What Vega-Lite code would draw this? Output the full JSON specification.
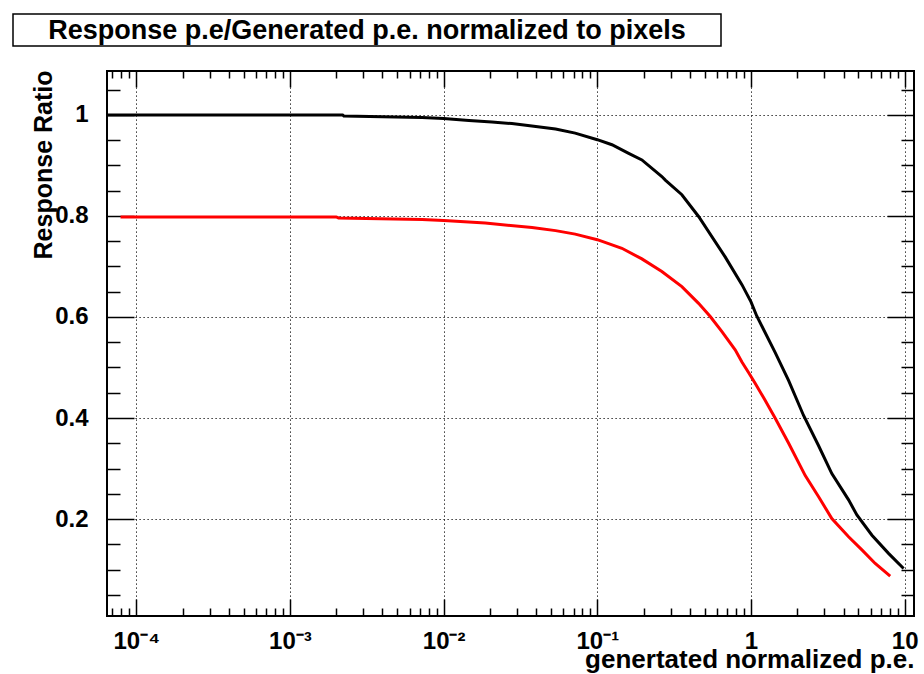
{
  "$schema": "https://vega.github.io/schema/vega-lite/v6.json",
  "background": "white",
  "padding": {"left": 12, "top": 13, "right": 0, "bottom": 0},
  "spacing": 22,
  "config": {
    "font": "Liberation Sans",
    "axis": {"labelFont": "Liberation Sans", "titleFont": "Liberation Sans", "labelColor": "black", "titleColor": "black", "tickColor": "black"}
  },
  "datasets": {
    "response": [
      {"curve": "upper", "pe": 6.5e-5, "ratio": 1.0},
      {"curve": "upper", "pe": 0.0022, "ratio": 1.0},
      {"curve": "upper", "pe": 0.00224, "ratio": 0.998},
      {"curve": "upper", "pe": 0.00723, "ratio": 0.995},
      {"curve": "upper", "pe": 0.01, "ratio": 0.993},
      {"curve": "upper", "pe": 0.0146, "ratio": 0.989},
      {"curve": "upper", "pe": 0.0206, "ratio": 0.986},
      {"curve": "upper", "pe": 0.0278, "ratio": 0.983},
      {"curve": "upper", "pe": 0.0375, "ratio": 0.978},
      {"curve": "upper", "pe": 0.0535, "ratio": 0.972},
      {"curve": "upper", "pe": 0.0718, "ratio": 0.964},
      {"curve": "upper", "pe": 0.1, "ratio": 0.951},
      {"curve": "upper", "pe": 0.1245, "ratio": 0.941},
      {"curve": "upper", "pe": 0.16, "ratio": 0.924},
      {"curve": "upper", "pe": 0.195, "ratio": 0.911},
      {"curve": "upper", "pe": 0.263, "ratio": 0.878},
      {"curve": "upper", "pe": 0.277, "ratio": 0.871},
      {"curve": "upper", "pe": 0.355, "ratio": 0.842},
      {"curve": "upper", "pe": 0.456, "ratio": 0.799},
      {"curve": "upper", "pe": 0.679, "ratio": 0.719},
      {"curve": "upper", "pe": 0.873, "ratio": 0.664},
      {"curve": "upper", "pe": 1.0, "ratio": 0.63},
      {"curve": "upper", "pe": 1.09, "ratio": 0.602},
      {"curve": "upper", "pe": 1.435, "ratio": 0.53},
      {"curve": "upper", "pe": 1.758, "ratio": 0.474},
      {"curve": "upper", "pe": 2.198, "ratio": 0.405},
      {"curve": "upper", "pe": 2.754, "ratio": 0.345},
      {"curve": "upper", "pe": 3.357, "ratio": 0.29},
      {"curve": "upper", "pe": 4.315, "ratio": 0.238},
      {"curve": "upper", "pe": 4.887, "ratio": 0.208},
      {"curve": "upper", "pe": 6.124, "ratio": 0.168},
      {"curve": "upper", "pe": 7.852, "ratio": 0.132},
      {"curve": "upper", "pe": 9.84, "ratio": 0.102},
      {"curve": "lower", "pe": 7.9e-5, "ratio": 0.798},
      {"curve": "lower", "pe": 0.002, "ratio": 0.798},
      {"curve": "lower", "pe": 0.00207, "ratio": 0.796},
      {"curve": "lower", "pe": 0.00723, "ratio": 0.793},
      {"curve": "lower", "pe": 0.01, "ratio": 0.791},
      {"curve": "lower", "pe": 0.01866, "ratio": 0.786},
      {"curve": "lower", "pe": 0.0376, "ratio": 0.777},
      {"curve": "lower", "pe": 0.0535, "ratio": 0.771},
      {"curve": "lower", "pe": 0.0718, "ratio": 0.764},
      {"curve": "lower", "pe": 0.1, "ratio": 0.753},
      {"curve": "lower", "pe": 0.1445, "ratio": 0.736},
      {"curve": "lower", "pe": 0.195, "ratio": 0.715},
      {"curve": "lower", "pe": 0.263, "ratio": 0.69},
      {"curve": "lower", "pe": 0.355, "ratio": 0.66},
      {"curve": "lower", "pe": 0.456, "ratio": 0.627},
      {"curve": "lower", "pe": 0.543, "ratio": 0.601},
      {"curve": "lower", "pe": 0.647, "ratio": 0.571},
      {"curve": "lower", "pe": 0.789, "ratio": 0.535},
      {"curve": "lower", "pe": 0.873, "ratio": 0.511},
      {"curve": "lower", "pe": 0.964, "ratio": 0.49},
      {"curve": "lower", "pe": 1.064, "ratio": 0.469},
      {"curve": "lower", "pe": 1.225, "ratio": 0.437},
      {"curve": "lower", "pe": 1.435, "ratio": 0.4},
      {"curve": "lower", "pe": 1.758, "ratio": 0.35},
      {"curve": "lower", "pe": 2.254, "ratio": 0.286},
      {"curve": "lower", "pe": 2.754, "ratio": 0.244},
      {"curve": "lower", "pe": 3.357, "ratio": 0.201},
      {"curve": "lower", "pe": 4.315, "ratio": 0.165},
      {"curve": "lower", "pe": 5.27, "ratio": 0.139},
      {"curve": "lower", "pe": 6.43, "ratio": 0.112},
      {"curve": "lower", "pe": 8.05, "ratio": 0.087}
    ]
  },
  "vconcat": [
    {
      "width": 708,
      "height": 32,
      "view": {"stroke": "black", "strokeWidth": 1.5, "fill": "white"},
      "data": {"values": [{}]},
      "mark": {
        "type": "text",
        "text": "Response p.e/Generated p.e. normalized to pixels",
        "align": "center",
        "baseline": "alphabetic",
        "dy": 9,
        "font": "Liberation Sans",
        "fontSize": 27,
        "fontWeight": "bold",
        "color": "black"
      },
      "encoding": {}
    },
    {
      "spacing": 0,
      "hconcat": [
        {
          "width": 16,
          "height": 10,
          "view": {"stroke": null},
          "data": {"values": []},
          "mark": "text",
          "encoding": {}
        },
        {
          "width": 807,
          "height": 545,
          "view": {"stroke": "black", "strokeWidth": 2},
          "data": {"name": "response"},
          "layer": [
            {
              "transform": [{"filter": "datum.curve == 'upper'"}],
              "mark": {"type": "line", "color": "black", "strokeWidth": 3, "clip": true},
              "encoding": {
                "x": {
                  "field": "pe",
                  "type": "quantitative",
                  "scale": {"type": "log", "domain": [6.45e-5, 11.5], "nice": false},
                  "axis": {
                    "orient": "bottom",
                    "domain": false,
                    "values": [7e-5, 8e-5, 9e-5, 0.0001, 0.0002, 0.0003, 0.0004, 0.0005, 0.0006, 0.0007, 0.0008, 0.0009, 0.001, 0.002, 0.003, 0.004, 0.005, 0.006, 0.007, 0.008, 0.009, 0.01, 0.02, 0.03, 0.04, 0.05, 0.06, 0.07, 0.08, 0.09, 0.1, 0.2, 0.3, 0.4, 0.5, 0.6, 0.7, 0.8, 0.9, 1, 2, 3, 4, 5, 6, 7, 8, 9, 10],
                    "labelExpr": "abs(log(datum.value)/LN10 - round(log(datum.value)/LN10)) > 1e-6 ? '' : round(log(datum.value)/LN10) == 0 ? '1' : round(log(datum.value)/LN10) == 1 ? '10' : '10' + ['⁻⁴', '⁻³', '⁻²', '⁻¹'][round(log(datum.value)/LN10) + 4]",
                    "labelOverlap": false,
                    "labelFlush": false,
                    "labelBound": false,
                    "labelFontSize": 24,
                    "labelFontWeight": "bold",
                    "labelPadding": 30,
                    "tickWidth": 1.5,
                    "tickSize": {"condition": {"test": "abs(log(datum.value)/LN10 - round(log(datum.value)/LN10)) < 1e-6", "value": -17}, "value": -8},
                    "grid": true,
                    "gridColor": "black",
                    "gridWidth": 1,
                    "gridDash": [1.2, 2.8],
                    "gridOpacity": {"condition": {"test": "abs(log(datum.value)/LN10 - round(log(datum.value)/LN10)) < 1e-6", "value": 1}, "value": 0},
                    "title": "genertated normalized p.e.",
                    "titleFontSize": 26,
                    "titleFontWeight": "bold",
                    "titleAnchor": "end",
                    "titleAlign": "right",
                    "titleBaseline": "alphabetic",
                    "titleX": 807,
                    "titleY": 51
                  }
                },
                "y": {
                  "field": "ratio",
                  "type": "quantitative",
                  "scale": {"domain": [0.008, 1.087], "nice": false, "zero": false},
                  "axis": {
                    "orient": "left",
                    "domain": false,
                    "values": [0.05, 0.1, 0.15, 0.2, 0.25, 0.3, 0.35, 0.4, 0.45, 0.5, 0.55, 0.6, 0.65, 0.7, 0.75, 0.8, 0.85, 0.9, 0.95, 1, 1.05],
                    "labelExpr": "abs(datum.value*5 - round(datum.value*5)) > 1e-6 ? '' : datum.value == 1 ? '1' : format(datum.value, '.1f')",
                    "labelOverlap": false,
                    "labelFlush": false,
                    "labelBound": false,
                    "labelFontSize": 24,
                    "labelFontWeight": "bold",
                    "labelPadding": 46,
                    "tickWidth": 1.5,
                    "tickSize": {"condition": {"test": "abs(datum.value*5 - round(datum.value*5)) < 1e-6", "value": -27}, "value": -13},
                    "grid": true,
                    "gridColor": "black",
                    "gridWidth": 1,
                    "gridDash": [1.2, 2.8],
                    "gridOpacity": {"condition": {"test": "abs(datum.value*5 - round(datum.value*5)) < 1e-6", "value": 1}, "value": 0},
                    "title": "Response Ratio",
                    "titleFontSize": 25,
                    "titleFontWeight": "bold",
                    "titleAngle": -90,
                    "titleAnchor": "end",
                    "titleAlign": "right",
                    "titleBaseline": "alphabetic",
                    "titleX": -56,
                    "titleY": -1
                  }
                }
              }
            },
            {
              "transform": [{"filter": "datum.curve == 'lower'"}],
              "mark": {"type": "line", "color": "#ff0000", "strokeWidth": 3, "clip": true},
              "encoding": {
                "x": {
                  "field": "pe",
                  "type": "quantitative",
                  "axis": {
                    "orient": "top",
                    "domain": false,
                    "labels": false,
                    "grid": false,
                    "title": null,
                    "values": [7e-5, 8e-5, 9e-5, 0.0001, 0.0002, 0.0003, 0.0004, 0.0005, 0.0006, 0.0007, 0.0008, 0.0009, 0.001, 0.002, 0.003, 0.004, 0.005, 0.006, 0.007, 0.008, 0.009, 0.01, 0.02, 0.03, 0.04, 0.05, 0.06, 0.07, 0.08, 0.09, 0.1, 0.2, 0.3, 0.4, 0.5, 0.6, 0.7, 0.8, 0.9, 1, 2, 3, 4, 5, 6, 7, 8, 9, 10],
                    "tickWidth": 1.5,
                    "tickSize": {"condition": {"test": "abs(log(datum.value)/LN10 - round(log(datum.value)/LN10)) < 1e-6", "value": -16}, "value": -7}
                  }
                },
                "y": {
                  "field": "ratio",
                  "type": "quantitative",
                  "axis": {
                    "orient": "right",
                    "domain": false,
                    "labels": false,
                    "grid": false,
                    "title": null,
                    "values": [0.05, 0.1, 0.15, 0.2, 0.25, 0.3, 0.35, 0.4, 0.45, 0.5, 0.55, 0.6, 0.65, 0.7, 0.75, 0.8, 0.85, 0.9, 0.95, 1, 1.05],
                    "tickWidth": 1.5,
                    "tickSize": {"condition": {"test": "abs(datum.value*5 - round(datum.value*5)) < 1e-6", "value": -27}, "value": -13}
                  }
                }
              }
            }
          ],
          "resolve": {"axis": {"x": "independent", "y": "independent"}}
        }
      ]
    }
  ]
}
